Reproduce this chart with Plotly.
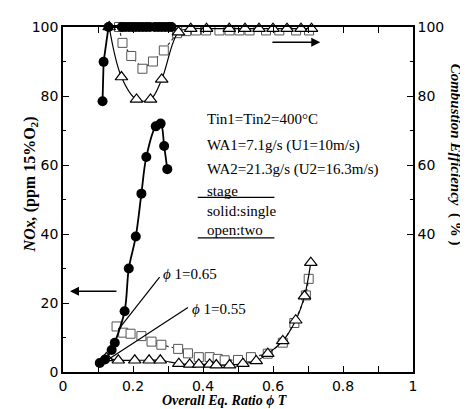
import plotly.graph_objects as go

# ---------------- data ----------------
# NOx, single stage (solid circles)
phi_nox_single = [0.105, 0.12, 0.139, 0.148, 0.176, 0.188, 0.208, 0.224, 0.238, 0.265, 0.279, 0.289, 0.298]
nox_single = [2.6, 3.6, 6.4, 8.5, 17.6, 30.0, 39.3, 51.7, 62.3, 71.2, 72.0, 65.5, 58.8]

# NOx, two stage phi1=0.65 (open squares)
phi_nox_sq = [0.153, 0.172, 0.193, 0.224, 0.253, 0.281, 0.329, 0.357, 0.388, 0.419, 0.442, 0.462, 0.5,
              0.537, 0.585, 0.628, 0.661, 0.694, 0.702]
nox_sq = [13.2, 11.4, 11.1, 10.4, 8.8, 7.9, 6.7, 5.4, 4.3, 4.3, 3.8, 3.4, 3.5, 4.3, 5.3, 8.5, 14.2, 22.2, 27.0]

# NOx, two stage phi1=0.55 (open triangles)
phi_nox_tri = [0.124, 0.158, 0.205, 0.246, 0.278, 0.331, 0.362, 0.388, 0.419, 0.438, 0.476, 0.514,
               0.552, 0.585, 0.628, 0.665, 0.69, 0.708]
nox_tri = [4.1, 3.4, 3.4, 3.4, 3.4, 2.4, 2.2, 2.2, 2.2, 2.0, 2.0, 2.4, 3.2, 5.3, 9.0, 15.0, 22.0, 31.7]

# Combustion efficiency, single stage (solid circles)
phi_eff_single = [0.113, 0.116, 0.13, 0.168, 0.178, 0.188, 0.198, 0.208, 0.218, 0.228, 0.238, 0.248,
                  0.262, 0.272, 0.282, 0.292, 0.302, 0.31]
eff_single = [78.5, 89.9, 100, 100, 100, 100, 100, 100, 100, 100, 100, 100, 100, 100, 100, 100, 100, 100]

# Combustion efficiency, two stage phi1=0.65 (open squares)
phi_eff_sq = [0.16, 0.17, 0.195, 0.227, 0.257, 0.288, 0.326, 0.352, 0.38, 0.409, 0.447, 0.476, 0.504,
              0.533, 0.58, 0.618, 0.666, 0.703]
eff_sq = [100, 95.4, 91.6, 87.9, 90.0, 93.2, 98.2, 98.8, 99.0, 99.0, 99.0, 99.0, 99.0, 99.0, 99.0, 99.0, 99.0, 99.0]

# Combustion efficiency, two stage phi1=0.55 (open triangles)
phi_eff_tri = [0.132, 0.167, 0.21, 0.25, 0.282, 0.33, 0.365, 0.41, 0.475, 0.52, 0.56, 0.6, 0.64, 0.68, 0.71]
eff_tri = [100, 85.5, 79.0, 79.0, 84.8, 98.5, 99.5, 99.5, 99.5, 99.5, 99.5, 99.5, 99.5, 99.5, 99.5]

x_ticks = [0, 0.2, 0.4, 0.6, 0.8, 1]
x_ticktext = ["0", "0.2", "0.4", "0.6", "0.8", "1"]
y_ticks = [0, 20, 40, 60, 80, 100]
y2_ticks = [40, 60, 80, 100]
y2_minor = [50, 70, 90]

notes = ["Tin1=Tin2=400°C", "WA1=7.1g/s (U1=10m/s)", "WA2=21.3g/s (U2=16.3m/s)",
         "stage", "solid:single", "open:two"]
note_y = [73.4, 65.7, 58.6, 52.4, 46.7, 41.1]

# ---------------- figure ----------------
SERIF = "Liberation Serif"
SANS = "DejaVu Sans"

fig = go.Figure()

# NOx (left axis)
fig.add_trace(go.Scatter(x=phi_nox_sq, y=nox_sq, mode="lines+markers", cliponaxis=False,
                         line=dict(color="#333", width=1.2, dash="dot"),
                         marker=dict(symbol="square", size=9, color="white",
                                     line=dict(color="#555", width=1))))
fig.add_trace(go.Scatter(x=phi_nox_tri, y=nox_tri, mode="lines+markers", cliponaxis=False,
                         line=dict(color="black", width=1.2, shape="spline"),
                         marker=dict(symbol="triangle-up", size=11, color="white",
                                     line=dict(color="black", width=1.2))))
fig.add_trace(go.Scatter(x=phi_nox_single, y=nox_single, mode="lines+markers", cliponaxis=False,
                         line=dict(color="black", width=1.8, shape="spline"),
                         marker=dict(symbol="circle", size=10, color="black")))

# Combustion efficiency (right axis)
fig.add_trace(go.Scatter(x=phi_eff_sq, y=eff_sq, yaxis="y2", mode="lines+markers", cliponaxis=False,
                         line=dict(color="#333", width=1.2, dash="dot"),
                         marker=dict(symbol="square", size=9, color="white",
                                     line=dict(color="#555", width=1))))
fig.add_trace(go.Scatter(x=phi_eff_tri, y=eff_tri, yaxis="y2", mode="lines+markers", cliponaxis=False,
                         line=dict(color="black", width=1.2, shape="spline"),
                         marker=dict(symbol="triangle-up", size=11, color="white",
                                     line=dict(color="black", width=1.2))))
fig.add_trace(go.Scatter(x=phi_eff_single, y=eff_single, yaxis="y2", mode="lines+markers", cliponaxis=False,
                         line=dict(color="black", width=1.8),
                         marker=dict(symbol="circle", size=10, color="black")))

annotations = []
for t, yy in zip(notes, note_y):
    annotations.append(dict(x=0.405, y=yy, xref="x", yref="y", text=t, showarrow=False,
                            xanchor="left", yanchor="middle",
                            font=dict(family=SERIF, size=15, color="black")))

# phi labels
annotations.append(dict(x=0.281, y=28.3, xref="x", yref="y", text="<i>ϕ</i> 1=0.65", showarrow=False,
                        xanchor="left", yanchor="middle", font=dict(family=SERIF, size=15, color="black")))
annotations.append(dict(x=0.362, y=18.4, xref="x", yref="y", text="<i>ϕ</i> 1=0.55", showarrow=False,
                        xanchor="left", yanchor="middle", font=dict(family=SERIF, size=15, color="black")))

# arrows
annotations.append(dict(x=0.02, y=23.4, ax=0.157, ay=23.4, xref="x", yref="y", axref="x", ayref="y",
                        text="", showarrow=True, arrowhead=2, arrowsize=1.2, arrowwidth=1.5, arrowcolor="black"))
annotations.append(dict(x=0.735, y=95.6, ax=0.594, ay=95.6, xref="x", yref="y", axref="x", ayref="y",
                        text="", showarrow=True, arrowhead=2, arrowsize=1.2, arrowwidth=1.5, arrowcolor="black"))

# axis titles
annotations.append(dict(x=0.463, y=-0.082, xref="paper", yref="paper", showarrow=False,
                        text="<b><i>Overall Eq. Ratio ϕ T</i></b>", xanchor="center", yanchor="middle",
                        font=dict(family=SERIF, size=14, color="black")))
annotations.append(dict(x=-0.094, y=0.544, xref="paper", yref="paper", showarrow=False, textangle=-90,
                        text="<b><i>NOx,</i> (ppm 15%O<sub>2</sub>)</b>", xanchor="center", yanchor="middle",
                        font=dict(family=SERIF, size=16, color="black")))
annotations.append(dict(x=1.12, y=0.63, xref="paper", yref="paper", showarrow=False, textangle=90,
                        text="<b><i>Combustion Efficiency</i>  ( % )</b>", xanchor="center", yanchor="middle",
                        font=dict(family=SERIF, size=15, color="black")))

shapes = [
    dict(type="line", xref="x", yref="y", x0=0.385, x1=0.604, y0=50.6, y1=50.6, line=dict(color="black", width=1.2)),
    dict(type="line", xref="x", yref="y", x0=0.385, x1=0.604, y0=38.9, y1=38.9, line=dict(color="black", width=1.2)),
    dict(type="line", xref="x", yref="y", x0=0.158, x1=0.276, y0=12.3, y1=27.5, line=dict(color="black", width=1.2)),
    dict(type="line", xref="x", yref="y", x0=0.129, x1=0.357, y0=3.6, y1=18.7, line=dict(color="black", width=1.2)),
]

axis_font = dict(family=SANS, size=14, color="black")
# the page body adds an 8px margin, so the figure is 8px smaller than the window
fig.update_layout(
    width=460, height=401,
    margin=dict(l=55, r=55, t=11, b=37),
    paper_bgcolor="white", plot_bgcolor="white",
    showlegend=False,
    annotations=annotations, shapes=shapes,
    xaxis=dict(range=[0, 1], tickmode="array", tickvals=x_ticks, ticktext=x_ticktext,
               ticks="inside", ticklen=6, tickwidth=1.2, tickcolor="black",
               minor=dict(dtick=0.1, tick0=0, ticks="inside", ticklen=3, tickcolor="black"),
               showline=True, linecolor="black", linewidth=1.5, mirror="allticks",
               showgrid=False, zeroline=False, tickfont=axis_font),
    yaxis=dict(range=[0, 100], tickmode="array", tickvals=y_ticks,
               ticks="inside", ticklen=6, tickwidth=1.2, tickcolor="black",
               minor=dict(dtick=10, tick0=0, ticks="inside", ticklen=3, tickcolor="black"),
               showline=True, linecolor="black", linewidth=1.5,
               showgrid=False, zeroline=False, tickfont=axis_font),
    yaxis2=dict(range=[0, 100], overlaying="y", side="right", tickmode="array", tickvals=y2_ticks,
                ticks="inside", ticklen=6, tickwidth=1.2, tickcolor="black",
                minor=dict(tickvals=y2_minor, ticks="inside", ticklen=3, tickcolor="black"),
                showline=True, linecolor="black", linewidth=1.5,
                showgrid=False, zeroline=False, tickfont=axis_font),
)

fig.write_html("out.html")
